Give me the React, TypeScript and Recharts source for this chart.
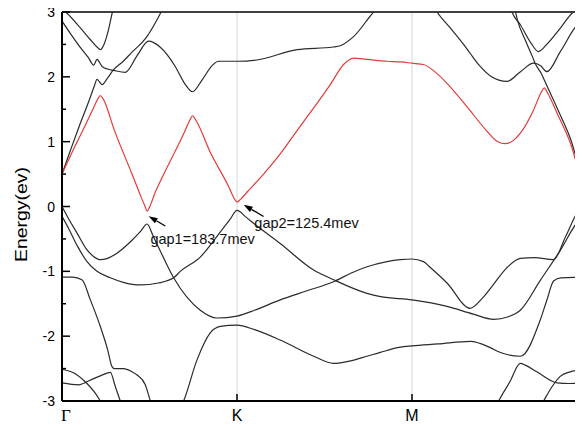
import React from "react";
import {
  LineChart,
  Line,
  XAxis,
  YAxis,
  ReferenceLine,
  ReferenceDot,
  Label,
} from "recharts";

type Pt = [number, number];

// k-path positions and labels
const kTicks = [0, 1, 2, 3];
const kLabels = ["Γ", "K", "M", "Γ"];
const eTicks = [-3, -2.5, -2, -1.5, -1, -0.5, 0, 0.5, 1, 1.5, 2, 2.5, 3];

// highlighted conduction band (red)
const conduction: Pt[] = [
  [0, 0.5], [0.06, 0.85], [0.12, 1.18], [0.18, 1.52], [0.205, 1.66], [0.219, 1.71],
  [0.235, 1.66], [0.3, 1.17], [0.4, 0.5], [0.45, 0.16], [0.475, 0.0], [0.486, -0.07],
  [0.5, -0.01], [0.53, 0.2], [0.6, 0.6], [0.7, 1.15], [0.73, 1.33], [0.746, 1.4],
  [0.765, 1.33], [0.85, 0.82], [0.95, 0.32], [0.985, 0.12], [1.0, 0.07], [1.02, 0.11],
  [1.057, 0.22], [1.152, 0.5], [1.247, 0.81], [1.343, 1.17], [1.438, 1.52], [1.533, 1.88],
  [1.609, 2.19], [1.666, 2.29], [1.743, 2.27], [1.857, 2.24], [1.933, 2.23], [2.0, 2.21],
  [2.066, 2.19], [2.13, 2.08], [2.2, 1.9], [2.314, 1.54], [2.429, 1.16], [2.49, 1.0],
  [2.533, 0.97], [2.58, 1.02], [2.619, 1.13], [2.695, 1.49], [2.74, 1.77], [2.756, 1.83],
  [2.775, 1.75], [2.829, 1.44], [2.905, 0.98], [2.96, 0.55], [3.0, 0.5],
];

// other bands (black)
const bandV: Pt[] = [
  [0, 3.05], [0.029, 2.98], [0.1, 2.77], [0.16, 2.58], [0.2, 2.46], [0.219, 2.42],
  [0.24, 2.5], [0.265, 2.72], [0.288, 3.0], [0.33, 3.4], [1.5, 4.5], [2.53, 3.4],
  [2.571, 3.0], [2.62, 2.8], [2.68, 2.52], [2.723, 2.39], [2.77, 2.5], [2.85, 2.76],
  [2.914, 2.98], [3.0, 3.1],
];

const bandUp2: Pt[] = [
  [0, 2.86], [0.05, 2.66], [0.1, 2.47], [0.15, 2.3], [0.181, 2.18], [0.2, 2.27],
  [0.215, 2.22], [0.229, 2.16], [0.26, 2.12], [0.295, 2.1], [0.362, 2.07], [0.43, 2.33],
  [0.495, 2.55], [0.56, 2.46], [0.647, 2.16], [0.7, 1.9], [0.746, 1.77], [0.8, 1.95],
  [0.86, 2.18], [0.895, 2.24], [1.0, 2.24], [1.114, 2.26], [1.343, 2.42], [1.55, 2.46],
  [1.59, 2.48], [1.666, 2.62], [1.781, 3.0], [1.9, 3.3], [2.0, 3.4], [2.1, 3.2],
  [2.143, 3.0], [2.22, 2.75], [2.295, 2.5], [2.333, 2.36], [2.39, 2.16], [2.45, 2.01],
  [2.543, 1.93], [2.62, 2.08], [2.695, 2.21], [2.735, 2.17], [2.771, 2.08], [2.85, 2.4],
  [2.96, 2.84], [3.0, 2.87],
];

const bandUp3: Pt[] = [
  [0, 0.5], [0.05, 0.88], [0.1, 1.25], [0.15, 1.6], [0.185, 1.86], [0.2, 1.96],
  [0.215, 1.92], [0.229, 1.88], [0.26, 1.98], [0.295, 2.11], [0.35, 2.24], [0.4, 2.38],
  [0.48, 2.6], [0.543, 2.88], [0.57, 3.02], [0.62, 3.3], [1.6, 4.0], [2.55, 3.3],
  [2.59, 3.02], [2.6, 2.9], [2.65, 2.55], [2.69, 2.3], [2.705, 2.2], [2.743, 2.03],
  [2.756, 1.95], [2.829, 1.52], [2.905, 1.05], [2.96, 0.6], [3.0, 0.5],
];

const bandA: Pt[] = [
  [0, 0.0], [0.04, -0.2], [0.086, -0.41], [0.143, -0.67], [0.18, -0.77], [0.219, -0.82],
  [0.26, -0.8], [0.314, -0.72], [0.4, -0.52], [0.45, -0.38], [0.486, -0.27], [0.52, -0.45],
  [0.55, -0.62], [0.638, -1.1], [0.79, -1.6], [0.886, -1.72], [1.0, -1.69], [1.1, -1.6],
  [1.247, -1.44], [1.4, -1.3], [1.552, -1.16], [1.65, -1.03], [1.743, -0.93], [1.857, -0.85],
  [1.933, -0.82], [2.0, -0.81], [2.066, -0.85], [2.1, -0.93], [2.2, -1.18], [2.333, -1.57],
  [2.4, -1.42], [2.466, -1.2], [2.54, -0.95], [2.619, -0.8], [2.7, -0.79], [2.809, -0.82],
  [2.88, -0.45], [2.96, -0.04], [3.0, 0.0],
];

const bandB: Pt[] = [
  [0, -0.15], [0.04, -0.35], [0.086, -0.6], [0.143, -0.85], [0.2, -1.0], [0.276, -1.1],
  [0.35, -1.17], [0.447, -1.21], [0.55, -1.18], [0.638, -1.1], [0.676, -1.0], [0.79, -0.78],
  [0.905, -0.39], [0.96, -0.2], [1.0, -0.06], [1.05, -0.16], [1.1, -0.27], [1.247, -0.57],
  [1.438, -0.98], [1.552, -1.13], [1.743, -1.34], [1.82, -1.39], [2.0, -1.44], [2.2, -1.54],
  [2.35, -1.66], [2.466, -1.74], [2.55, -1.7], [2.619, -1.6], [2.733, -1.14], [2.847, -0.68],
  [2.96, -0.2], [3.0, -0.15],
];

const bandC: Pt[] = [
  [0, -1.09], [0.06, -1.09], [0.114, -1.13], [0.162, -1.44], [0.219, -1.85], [0.26, -2.2],
  [0.286, -2.47], [0.3, -2.5], [0.352, -2.5], [0.4, -2.55], [0.429, -2.6], [0.476, -2.75],
  [0.505, -3.0], [0.6, -3.4], [0.695, -3.0], [0.771, -2.37], [0.847, -1.95], [0.905, -1.85],
  [1.0, -1.83], [1.1, -1.9], [1.247, -2.06], [1.438, -2.31], [1.552, -2.42], [1.65, -2.38],
  [1.743, -2.31], [1.819, -2.25], [1.933, -2.17], [2.0, -2.15], [2.15, -2.12], [2.333, -2.08],
  [2.45, -2.18], [2.495, -2.24], [2.619, -2.31], [2.733, -1.75], [2.77, -1.45], [2.809, -1.15],
  [2.85, -1.1], [3.0, -1.09],
];

const bandD: Pt[] = [
  [0, -2.51], [0.076, -2.58], [0.143, -2.73], [0.19, -2.88], [0.219, -3.0], [0.28, -3.3], [0.35, -3.6],
];

const bandE: Pt[] = [
  [0, -2.72], [0.095, -2.75], [0.16, -2.68], [0.229, -2.6], [0.276, -2.56], [0.305, -2.78],
  [0.333, -3.0], [0.38, -3.4],
];

const bandF: Pt[] = [
  [2.35, -3.6], [2.45, -3.25], [2.495, -3.0], [2.56, -2.7], [2.619, -2.42], [2.65, -2.45],
  [2.714, -2.55], [2.829, -2.72], [2.9, -2.73], [3.0, -2.72],
];

const bandG: Pt[] = [
  [2.6, -3.6], [2.7, -3.25], [2.752, -3.0], [2.8, -2.78], [2.847, -2.62], [2.905, -2.55],
  [2.96, -2.52], [3.0, -2.51],
];

const blackBands = [bandV, bandUp2, bandUp3, bandA, bandB, bandC, bandD, bandE, bandF, bandG];

// annotations: [tail, tip] and text anchor
const gap1Arrow: Pt[] = [[0.59, -0.3], [0.495, -0.15]];
const gap2Arrow: Pt[] = [[1.152, -0.154], [1.038, 0.026]];
const gap1Text: Pt = [0.505, -0.58];
const gap2Text: Pt = [1.099, -0.33];

const toRows = (pts: Pt[]) => pts.map(([k, e]) => ({ k, e }));
const toSeg = (pts: Pt[]) => pts.map(([x, y]) => ({ x, y }));

const FONT = "Arial, 'Liberation Sans', sans-serif";

const XTick = (props: any) => {
  const { x, y, payload } = props;
  const v = payload.value;
  const i = kTicks.indexOf(v);
  const inner = v > 0 && v < 3;
  const isGamma = kLabels[i] === "Γ";
  return (
    <g>
      {inner && <line x1={x} y1={y} x2={x} y2={y - 7} stroke="#000" strokeWidth={1.5} />}
      <text
        x={x + (v === 0 ? 4 : 0)}
        y={y + 20}
        textAnchor="middle"
        fontSize={isGamma ? 17 : 16}
        fontFamily={isGamma ? "'Liberation Serif', serif" : FONT}
        fill="#000"
      >
        {kLabels[i]}
      </text>
    </g>
  );
};

const YTick = (props: any) => {
  const { x, y, payload } = props;
  const v = payload.value;
  const major = Number.isInteger(v);
  return (
    <g>
      <line x1={x} y1={y} x2={x + (major ? 8 : 4)} y2={y} stroke="#000" strokeWidth={1.5} />
      {major && (
        <text x={x - 7} y={y} dy="0.36em" textAnchor="end" fontSize={14} fontFamily={FONT} fill="#000">
          {v}
        </text>
      )}
    </g>
  );
};

const YLabel = (props: any) => {
  const vb = props.viewBox || { x: 0, y: 8, width: 54, height: 389 };
  const cx = vb.x + 13;
  const cy = vb.y + vb.height / 2 + 8;
  return (
    <text
      x={cx}
      y={cy}
      transform={`rotate(-90 ${cx} ${cy})`}
      textAnchor="middle"
      dominantBaseline="central"
      fontSize={16}
      fontFamily={FONT}
      textLength={95}
      lengthAdjust="spacingAndGlyphs"
      fill="#000"
    >
      Energy(ev)
    </text>
  );
};

const Arrow = (props: any) => {
  const { x1, y1, x2, y2 } = props;
  const dx = x2 - x1;
  const dy = y2 - y1;
  const len = Math.hypot(dx, dy) || 1;
  const ux = dx / len;
  const uy = dy / len;
  const hl = 9;
  const hw = 3;
  const bx = x2 - ux * hl;
  const by = y2 - uy * hl;
  return (
    <g>
      <line x1={x1} y1={y1} x2={bx} y2={by} stroke="#000" strokeWidth={1.3} />
      <polygon
        points={`${x2},${y2} ${bx - uy * hw},${by + ux * hw} ${bx + uy * hw},${by - ux * hw}`}
        fill="#000"
      />
    </g>
  );
};

const gapLabel = (text: string) => (p: any) => (
  <text x={p.cx} y={p.cy} fontSize={14.5} fontFamily={FONT} fill="#111">
    {text}
  </text>
);

export default function App() {
  return (
    <div style={{ width: 575, height: 423, marginTop: -4, overflow: "hidden", fontFamily: FONT }}>
      <LineChart width={590} height={422} margin={{ top: 8, right: 11, bottom: 6, left: 0 }}>
        <XAxis
          type="number"
          dataKey="k"
          domain={[0, 3]}
          ticks={kTicks}
          interval={0}
          tickSize={0}
          tickMargin={0}
          tickLine={false}
          tick={<XTick />}
          axisLine={{ stroke: "#000", strokeWidth: 2 }}
          height={19}
          allowDataOverflow
        />
        <YAxis
          type="number"
          dataKey="e"
          domain={[-3, 3]}
          ticks={eTicks}
          interval={0}
          tickSize={0}
          tickMargin={0}
          tickLine={false}
          tick={<YTick />}
          axisLine={{ stroke: "#000", strokeWidth: 2 }}
          width={54}
          allowDataOverflow
        >
          <Label content={<YLabel />} />
        </YAxis>
        <ReferenceLine x={1} stroke="#d6d6d6" strokeWidth={1} />
        <ReferenceLine x={2} stroke="#d6d6d6" strokeWidth={1} />
        <ReferenceLine y={3} stroke="#000" strokeWidth={1.5} />

        {blackBands.map((b, i) => (
          <Line
            key={`band-${i}`}
            data={toRows(b)}
            dataKey="e"
            type="monotone"
            stroke="#2b2b2b"
            strokeWidth={1.2}
            dot={false}
            activeDot={false}
            isAnimationActive={false}
          />
        ))}
        <Line
          data={toRows(conduction)}
          dataKey="e"
          type="monotone"
          stroke="#e23b3b"
          strokeWidth={1.2}
          dot={false}
          activeDot={false}
          isAnimationActive={false}
        />

        <ReferenceLine segment={toSeg(gap1Arrow)} ifOverflow="visible" shape={<Arrow />} />
        <ReferenceLine segment={toSeg(gap2Arrow)} ifOverflow="visible" shape={<Arrow />} />
        <ReferenceDot x={gap1Text[0]} y={gap1Text[1]} r={0} shape={gapLabel("gap1=183.7mev")} />
        <ReferenceDot x={gap2Text[0]} y={gap2Text[1]} r={0} shape={gapLabel("gap2=125.4mev")} />
      </LineChart>
    </div>
  );
}
